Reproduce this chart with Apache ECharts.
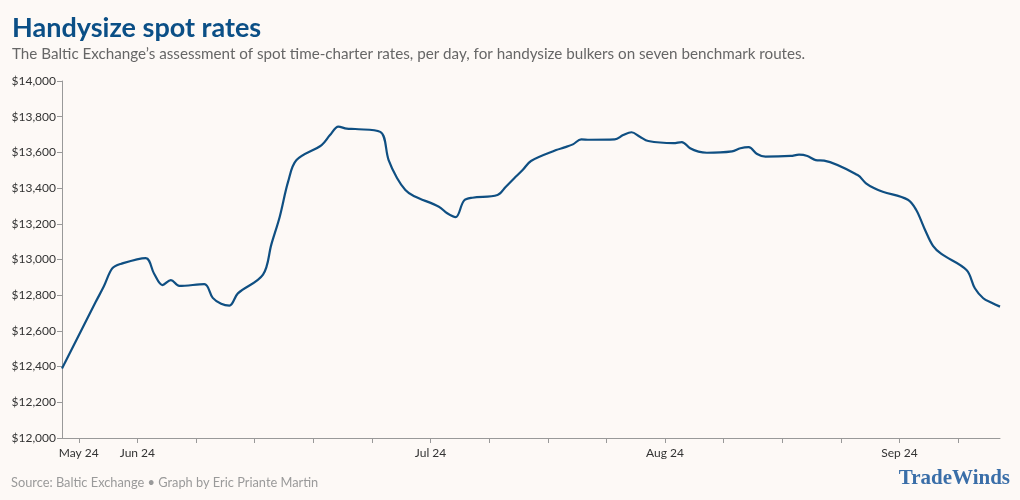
<!DOCTYPE html>
<html>
<head>
<meta charset="utf-8">
<title>Handysize spot rates</title>
<script src="https://cdn.jsdelivr.net/npm/echarts@6/dist/echarts.min.js"></script>
<style>
  html, body { margin: 0; padding: 0; background: #fdf9f6; }
  #chart { width: 1020px; height: 500px; }
</style>
</head>
<body>
<div id="chart"></div>
<script>
// Baltic Exchange handysize assessment, business days
const dates = [
  '2024-05-24', '2024-05-28', '2024-05-29', '2024-05-30', '2024-05-31',
  '2024-06-03', '2024-06-04', '2024-06-05', '2024-06-06', '2024-06-07',
  '2024-06-10', '2024-06-11', '2024-06-12', '2024-06-13', '2024-06-14',
  '2024-06-17', '2024-06-18', '2024-06-19', '2024-06-20', '2024-06-21',
  '2024-06-24', '2024-06-25', '2024-06-26', '2024-06-27', '2024-06-28',
  '2024-07-01', '2024-07-02', '2024-07-03', '2024-07-04', '2024-07-05',
  '2024-07-08', '2024-07-09', '2024-07-10', '2024-07-11', '2024-07-12',
  '2024-07-15', '2024-07-16', '2024-07-17', '2024-07-18', '2024-07-19',
  '2024-07-22', '2024-07-23', '2024-07-24', '2024-07-25', '2024-07-26',
  '2024-07-29', '2024-07-30', '2024-07-31', '2024-08-01', '2024-08-02',
  '2024-08-05', '2024-08-06', '2024-08-07', '2024-08-08', '2024-08-09',
  '2024-08-12', '2024-08-13', '2024-08-14', '2024-08-15', '2024-08-16',
  '2024-08-19', '2024-08-20', '2024-08-21', '2024-08-22', '2024-08-23',
  '2024-08-27', '2024-08-28', '2024-08-29', '2024-08-30',
  '2024-09-02', '2024-09-03', '2024-09-04', '2024-09-05', '2024-09-06',
  '2024-09-09', '2024-09-10', '2024-09-11', '2024-09-12', '2024-09-13'
]
const rates = [
  12390, 12760, 12850, 12950, 12975,
  13008, 12920, 12857, 12885, 12852,
  12862, 12785, 12752, 12742, 12810,
  12915, 13085, 13240, 13436, 13557,
  13641, 13697, 13744, 13733, 13731,
  13715, 13557, 13457, 13390, 13356,
  13296, 13259, 13237, 13330, 13346,
  13361, 13408, 13455, 13501, 13552,
  13613, 13628, 13645, 13673, 13671,
  13673, 13697, 13713, 13688, 13664,
  13652, 13658, 13623, 13604, 13598,
  13606, 13623, 13629, 13591, 13576,
  13580, 13587, 13580, 13557, 13554,
  13473, 13427, 13399, 13380,
  13335, 13277, 13171, 13076, 13031,
  12941, 12839, 12783, 12758, 12736
]
// weekly ticks (Sundays) and the ones carrying a month label
const tickDates = [
  '2024-05-26', '2024-06-02', '2024-06-09', '2024-06-16', '2024-06-23', '2024-06-30',
  '2024-07-07', '2024-07-14', '2024-07-21', '2024-07-28', '2024-08-04', '2024-08-11',
  '2024-08-18', '2024-08-25', '2024-09-01', '2024-09-08'
]
const labelDates = ['2024-05-26', '2024-06-02', '2024-07-07', '2024-08-04', '2024-09-01']
const monthNames = ['Jan', 'Feb', 'Mar', 'Apr', 'May', 'Jun', 'Jul', 'Aug', 'Sep', 'Oct', 'Nov', 'Dec']

const toTime = s => {
  const [y, m, d] = s.split('-').map(Number)
  return Date.UTC(y, m - 1, d)
}

const chart = echarts.init(document.getElementById('chart'), null, { renderer: 'canvas' })

const option = {
  backgroundColor: '#fdf9f6',
  animation: false,
  title: [
    {
      text: 'Handysize spot rates',
      left: 7,
      top: 10,
      textStyle: {
        fontFamily: 'Lato',
        fontWeight: 'bold',
        fontSize: 27,
        color: '#0b4f86'
      },
      subtext: 'The Baltic Exchange\u2019s assessment of spot time-charter rates, per day, for handysize bulkers on seven benchmark routes.',
      subtextStyle: {
        fontFamily: 'Lato',
        fontSize: 15.2,
        color: '#666666'
      },
      itemGap: 5
    },
    {
      text: 'Source: Baltic Exchange \u2022 Graph by Eric Priante Martin',
      left: 6,
      top: 471,
      textStyle: {
        fontFamily: 'Lato',
        fontWeight: 'normal',
        fontSize: 12.8,
        color: '#9a9a9a'
      }
    },
    {
      text: 'TradeWinds',
      right: 5,
      top: 463,
      textStyle: {
        fontFamily: 'Liberation Serif',
        fontWeight: 'bold',
        fontSize: 21,
        color: '#3a6ea8'
      }
    }
  ],
  grid: {
    left: 62,
    right: 20,
    top: 81,
    bottom: 62,
    containLabel: false
  },
  xAxis: {
    type: 'value',
    min: toTime(dates[0]),
    max: toTime(dates[dates.length - 1]),
    splitLine: { show: false },
    axisLine: { show: true, lineStyle: { color: '#999999', width: 1 } },
    axisTick: {
      show: true,
      length: 5,
      customValues: tickDates.map(toTime),
      lineStyle: { color: '#999999' }
    },
    axisLabel: {
      customValues: labelDates.map(toTime),
      margin: 9,
      fontFamily: 'Lato',
      fontSize: 12,
      color: '#333333',
      formatter: v => {
        const d = new Date(v)
        return monthNames[d.getUTCMonth()] + ' ' + String(d.getUTCFullYear()).slice(2)
      }
    }
  },
  yAxis: {
    type: 'value',
    min: 12000,
    max: 14000,
    interval: 200,
    splitLine: { show: false },
    axisLine: { show: true, lineStyle: { color: '#999999', width: 1 } },
    axisTick: { show: true, length: 5, lineStyle: { color: '#999999' } },
    axisLabel: {
      margin: 6,
      fontFamily: 'Lato',
      fontSize: 12,
      color: '#333333',
      formatter: v => '$' + v.toLocaleString('en-US')
    }
  },
  series: [
    {
      type: 'line',
      data: dates.map((d, i) => [toTime(d), rates[i]]),
      smooth: 0.35,
      showSymbol: false,
      lineStyle: { color: '#0f4f82', width: 2.2 }
    }
  ]
}

chart.setOption(option)
</script>
</body>
</html>
